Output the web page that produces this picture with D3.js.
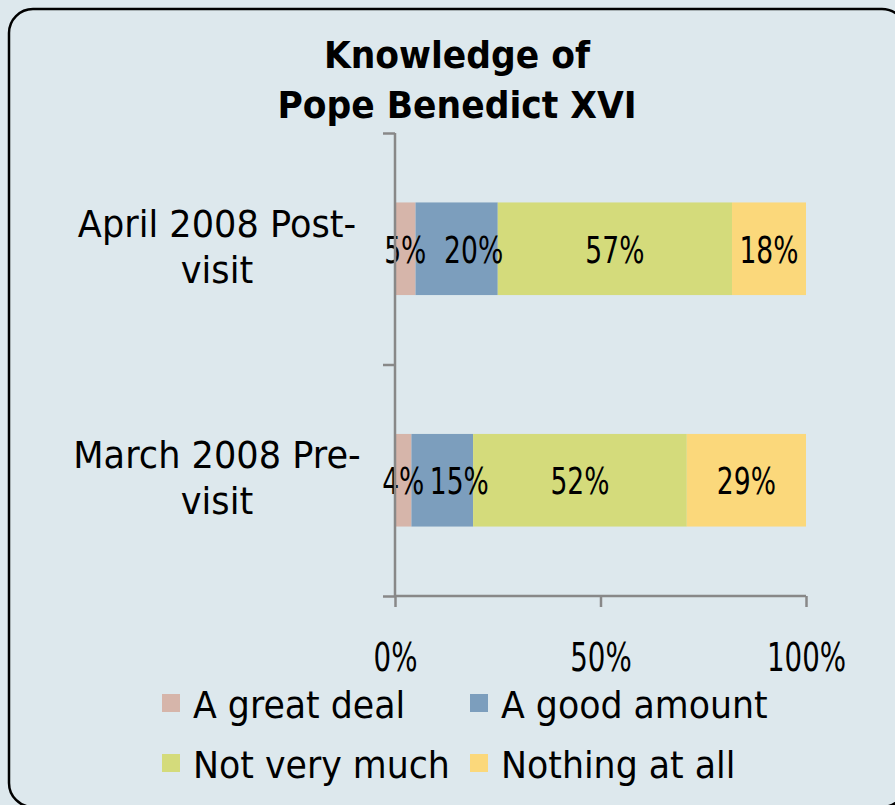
<!DOCTYPE html>
<html>
<head>
<meta charset="utf-8">
<script src="https://cdn.jsdelivr.net/npm/d3@7"></script>
<style>
  body { margin: 0; background: #dde8ed; }
  svg { display: block; }
  text { font-family: "DejaVu Sans", sans-serif; fill: #000; }
</style>
</head>
<body>
<div id="chart"></div>
<script>
// chart values
var categories = ["April 2008 Post-visit", "March 2008 Pre-visit"];
var categoryLines = [["April 2008 Post-", "visit"], ["March 2008 Pre-", "visit"]];
var seriesNames = ["A great deal", "A good amount", "Not very much", "Nothing at all"];
var greatDeal = [5, 4];
var goodAmount = [20, 15];
var notVeryMuch = [57, 52];
var nothingAtAll = [18, 29];
var xTicks = [0, 50, 100];
var titleLines = ["Knowledge of", "Pope Benedict XVI"];

var colors = ["#d6b5aa", "#7c9ebd", "#d4db7b", "#fbd87b"];
// small labels next to the narrow first segment get pushed right a bit
var labelShift = [0, 17, 0, 0];

var width = 895, height = 805;

var svg = d3.select("#chart").append("svg")
  .attr("width", width)
  .attr("height", height);

// frame
svg.append("rect")
  .attr("x", 9).attr("y", 9)
  .attr("width", 897).attr("height", 798)
  .attr("rx", 24).attr("ry", 24)
  .attr("fill", "#dde8ed")
  .attr("stroke", "#000")
  .attr("stroke-width", 2.5);

// text with horizontal squeeze, font is narrower in the original
function label(g, x, y, str, size, sx, anchor, weight) {
  return g.append("text")
    .attr("transform", "translate(" + x + "," + y + ") scale(" + sx + ",1)")
    .attr("text-anchor", anchor || "middle")
    .style("font-size", size + "px")
    .style("font-weight", weight || "normal")
    .text(str);
}

// title
titleLines.forEach(function(t, i) {
  label(svg, 457, 68 + i * 50, t, 38, 0.91, "middle", "bold");
});

// scales
var x = d3.scaleLinear().domain([0, 100]).range([395, 806]);
var y = d3.scaleBand().domain(categories).range([133, 596])
  .paddingInner(0.6).paddingOuter(0.3);

// stacked data
var rows = categories.map(function(c, i) {
  return { cat: c, "A great deal": greatDeal[i], "A good amount": goodAmount[i],
           "Not very much": notVeryMuch[i], "Nothing at all": nothingAtAll[i] };
});
var stacked = d3.stack().keys(seriesNames)(rows);

var bars = svg.append("g");
stacked.forEach(function(layer, k) {
  bars.selectAll(".s" + k)
    .data(layer)
    .enter().append("rect")
    .attr("class", "s" + k)
    .attr("x", function(d) { return x(d[0]); })
    .attr("y", function(d) { return y(d.data.cat); })
    .attr("width", function(d) { return x(d[1]) - x(d[0]); })
    .attr("height", y.bandwidth())
    .attr("fill", colors[k]);
});

// segment labels
stacked.forEach(function(layer, k) {
  layer.forEach(function(d) {
    var cx = (x(d[0]) + x(d[1])) / 2 + labelShift[k];
    var cy = y(d.data.cat) + y.bandwidth() / 2 + 14;
    label(svg, cx, cy, (d[1] - d[0]) + "%", 38, 0.7);
  });
});

// axes
var axisColor = "#888";
var yLin = d3.scaleLinear().domain([0, categories.length]).range([596, 133]);
var yAxis = svg.append("g")
  .attr("transform", "translate(395,0)")
  .call(d3.axisLeft(yLin).tickValues([0, 1, 2]).tickSize(12).tickFormat(""));

var xAxis = svg.append("g")
  .attr("transform", "translate(0,596)")
  .call(d3.axisBottom(x).tickValues(xTicks).tickSize(11).tickPadding(36)
    .tickFormat(function(d) { return d + "%"; }));

[yAxis, xAxis].forEach(function(a) {
  a.select(".domain").attr("stroke", axisColor).attr("stroke-width", 2.5);
  a.selectAll(".tick line").attr("stroke", axisColor).attr("stroke-width", 2.5);
});
yAxis.select(".domain").attr("d", "M0,133V596");
xAxis.select(".domain").attr("d", "M395,0H806");
xAxis.selectAll(".tick text")
  .attr("font-family", null)
  .style("font-size", "39px")
  .attr("fill", "#000")
  .attr("transform", "scale(0.71,1)");

// category labels
categoryLines.forEach(function(lines, i) {
  var cy = y(categories[i]) + y.bandwidth() / 2;
  label(svg, 217, cy - 12, lines[0], 37, 0.95);
  label(svg, 217, cy + 34, lines[1], 37, 0.95);
});

// legend
var legendPos = [[162, 718], [470, 718], [162, 778], [470, 778]];
var legend = svg.append("g");
seriesNames.forEach(function(s, i) {
  var p = legendPos[i];
  legend.append("rect")
    .attr("x", p[0]).attr("y", p[1] - 24)
    .attr("width", 18).attr("height", 18)
    .attr("fill", colors[i]);
  label(legend, p[0] + 31, p[1], s, 37, 0.94, "start");
});
</script>
</body>
</html>
